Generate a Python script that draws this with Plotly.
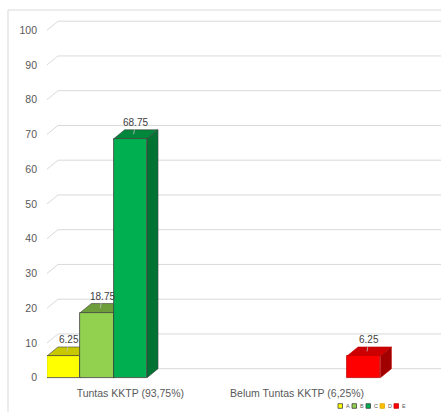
import plotly.graph_objects as go

# ---------------- data ----------------
categories = ["Tuntas KKTP (93,75%)", "Belum Tuntas KKTP (6,25%)"]
series_names = ["A", "B", "C", "D", "E"]
values_A = [6.25, None]
values_B = [18.75, None]
values_C = [68.75, None]
values_D = [None, None]
values_E = [None, 6.25]
y_ticks = [0, 10, 20, 30, 40, 50, 60, 70, 80, 90, 100]

series_values = [values_A, values_B, values_C, values_D, values_E]
front_colors = ["#FFFF00", "#92D050", "#00B050", "#FFC000", "#FF0000"]
top_colors = ["#C8C800", "#6E9E3C", "#00873C", "#CC9A00", "#CC0000"]
side_colors = ["#A8A800", "#5C8A30", "#007232", "#B08500", "#A00000"]
edge_colors = ["#404040", "#404040", "#404040", "#E0A800", "#C00000"]

# ---------------- geometry ----------------
W, H = 441, 412
ML, MR, MT, MB = 47, 0, 18, 32
plot_w = W - ML - MR
plot_h = H - MT - MB
px_per_x = 166.7
px_per_y = 3.475
x_min = -0.5
x_max = x_min + plot_w / px_per_x
y_min = -(2.3 / px_per_y)
y_max = y_min + plot_h / px_per_y
dx = 11 / px_per_x      # depth offset (x units)
dy = 9 / px_per_y       # depth offset (y units)
n = len(series_names)
bw = 1.0 / n
x_pos = list(range(len(categories)))

grid_col = "#D9D9D9"
txt_col = "#595959"
FONT = "Liberation Sans"

fig = go.Figure()
shapes = []
annotations = []

# back-wall gridlines and left-wall diagonals
for v in y_ticks:
    shapes.append(dict(type="line", xref="x", yref="y", layer="below",
                       x0=x_min + dx, x1=x_max, y0=v + dy, y1=v + dy,
                       line=dict(color=grid_col, width=1)))
    shapes.append(dict(type="line", xref="x", yref="y", layer="below",
                       x0=x_min, x1=x_min + dx, y0=v, y1=v + dy,
                       line=dict(color=grid_col, width=1)))

for i, (name, vals) in enumerate(zip(series_names, series_values)):
    fig.add_trace(go.Bar(
        x=x_pos, y=vals, name=name,
        marker=dict(color=front_colors[i], line=dict(color=edge_colors[i], width=0.8)),
        showlegend=False, hoverinfo="skip"))
    for ci, v in enumerate(vals):
        if v is None:
            continue
        xc = ci - 0.5 + bw * (i + 0.5)
        x0, x1 = xc - bw / 2, xc + bw / 2
        # top face
        shapes.append(dict(type="path", xref="x", yref="y", layer="between",
                           path=f"M {x0},{v} L {x1},{v} L {x1+dx},{v+dy} L {x0+dx},{v+dy} Z",
                           fillcolor=top_colors[i], line=dict(color=edge_colors[i], width=0.6)))
        # side face
        shapes.append(dict(type="path", xref="x", yref="y", layer="between",
                           path=f"M {x1},0 L {x1},{v} L {x1+dx},{v+dy} L {x1+dx},{dy} Z",
                           fillcolor=side_colors[i], line=dict(color=edge_colors[i], width=0.6)))
        # data label with leader line
        annotations.append(dict(x=xc + dx * 0.3, y=v + dy * 0.5, xref="x", yref="y",
                                text=f"{v:g}", showarrow=True, arrowhead=0,
                                arrowwidth=0.8, arrowcolor="#BFBFBF",
                                ax=2, ay=-12, standoff=0,
                                font=dict(family=FONT, size=10, color="#404040")))

# chart border
def px_to_paper_x(px):
    return (px - ML) / plot_w

def px_to_paper_y(py):
    return (H - MB - py) / plot_h

shapes.append(dict(type="rect", xref="paper", yref="paper", layer="below",
                   x0=px_to_paper_x(8), x1=px_to_paper_x(W + 10),
                   y0=px_to_paper_y(H + 10), y1=px_to_paper_y(10),
                   line=dict(color=grid_col, width=1), fillcolor="rgba(0,0,0,0)"))

# manual legend
leg_x0 = 338
leg_step = 14
leg_y = 406
for i, name in enumerate(series_names):
    sx = leg_x0 + i * leg_step
    shapes.append(dict(type="rect", xref="paper", yref="paper", layer="above",
                       x0=px_to_paper_x(sx), x1=px_to_paper_x(sx + 4.5),
                       y0=px_to_paper_y(leg_y + 2.3), y1=px_to_paper_y(leg_y - 2.3),
                       fillcolor=front_colors[i],
                       line=dict(color=edge_colors[i], width=0.8)))
    annotations.append(dict(x=px_to_paper_x(sx + 6), y=px_to_paper_y(leg_y),
                            xref="paper", yref="paper", text=name, showarrow=False,
                            xanchor="left", yanchor="middle",
                            font=dict(family=FONT, size=5.5, color=txt_col)))

fig.update_layout(
    width=W, height=H,
    margin=dict(l=ML, r=MR, t=MT, b=MB, pad=0),
    paper_bgcolor="white", plot_bgcolor="white",
    barmode="group", bargap=0, bargroupgap=0,
    showlegend=False,
    shapes=shapes, annotations=annotations,
    font=dict(family=FONT, color=txt_col),
)
fig.update_xaxes(range=[x_min, x_max], tickvals=x_pos, ticktext=categories,
                 showgrid=False, zeroline=False, showline=False, ticks="",
                 ticklabelstandoff=5,
                 tickfont=dict(family=FONT, size=10.5, color=txt_col))
fig.update_yaxes(range=[y_min, y_max], tickvals=y_ticks,
                 showgrid=False, zeroline=False, showline=False, ticks="",
                 ticklabelstandoff=9,
                 tickfont=dict(family=FONT, size=10.5, color=txt_col))

fig.write_html("out.html", config={"displayModeBar": False},
               post_script="document.body.style.margin='0';document.body.style.overflow='hidden';")
